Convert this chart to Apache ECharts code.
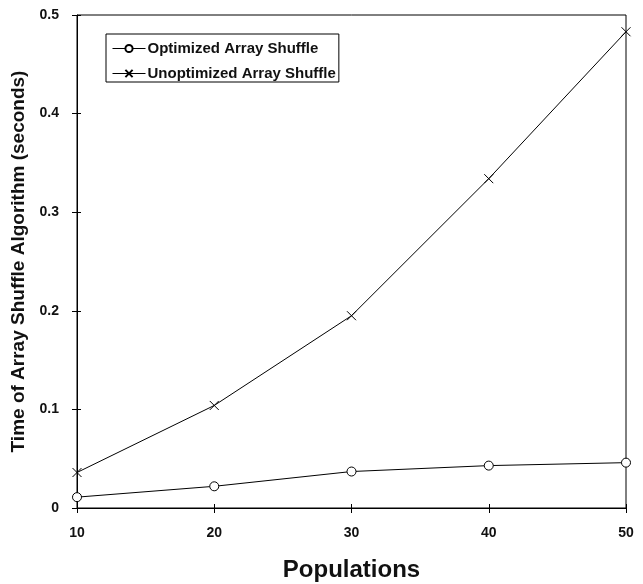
<!DOCTYPE html>
<html>
<head>
<meta charset="utf-8">
<script src="https://cdn.jsdelivr.net/npm/echarts@6/dist/echarts.min.js"></script>
<style>
html,body{margin:0;padding:0;background:#fff;}
#main{width:643px;height:584px;}
</style>
</head>
<body>
<div id="main"></div>
<script>
// populations on x axis
var populations = [10, 20, 30, 40, 50];
// timings (seconds)
var optimized = [0.011, 0.022, 0.037, 0.043, 0.046];
var unoptimized = [0.036, 0.104, 0.195, 0.334, 0.483];
var yTicks = [0, 0.1, 0.2, 0.3, 0.4, 0.5];

var font = 'Liberation Sans, Arial, sans-serif';

function pairs(xs, ys){
    var out = [];
    for(var i=0;i<xs.length;i++){
        out.push([xs[i], ys[i]]);
    }
    return out;
}

var myChart = echarts.init(document.getElementById('main'));
var crossPath = 'path://M0,0L10,10M10,0L0,10';
var labelStyle = {fontFamily: font, fontSize: 14, fontWeight: 'bold', color: '#111'};

var option = {
    animation: false,
    backgroundColor: '#fff',
    grid: {
        left: 77, right: 17, top: 15, bottom: 76,
        outerBoundsMode: 'none',
        containLabel: false,
        show: true, borderColor: '#000', borderWidth: 1
    },
    legend: {
        left: 106, top: 34,
        orient: 'vertical',
        borderColor: '#000', borderWidth: 1,
        padding: [7, 3, 1, 6],
        itemGap: 10,
        itemWidth: 33, itemHeight: 9,
        lineStyle: {width: 1},
        textStyle: {fontFamily: font, fontSize: 15, fontWeight: 'bold', color: '#111', padding: [0, 0, 0, -3]},
        data: ['Optimized Array Shuffle', 'Unoptimized Array Shuffle']
    },
    xAxis: [{
        type: 'value',
        min: 10, max: 50, interval: 10,
        name: 'Populations',
        nameLocation: 'middle',
        nameGap: 50,
        nameTextStyle: {fontFamily: font, fontSize: 24, fontWeight: 'bold', color: '#111'},
        axisLine: {lineStyle: {color: '#000', width: 1}},
        axisTick: {inside: false, length: 5, lineStyle: {color: '#000'}},
        axisLabel: Object.assign({margin: 18}, labelStyle),
        splitLine: {show: false}
    }, {
        // inside half of the crossing ticks
        type: 'value', position: 'bottom',
        min: 10, max: 50, interval: 10,
        axisLine: {show: false},
        axisTick: {inside: true, length: 4, lineStyle: {color: '#000'}},
        axisLabel: {show: false},
        splitLine: {show: false}
    }],
    yAxis: [{
        type: 'value',
        min: yTicks[0], max: yTicks[yTicks.length-1], interval: 0.1,
        name: 'Time of Array Shuffle Algorithm (seconds)',
        nameLocation: 'middle',
        nameGap: 47,
        nameTextStyle: {fontFamily: font, fontSize: 19, fontWeight: 'bold', color: '#111'},
        axisLine: {lineStyle: {color: '#000', width: 1}},
        axisTick: {length: 5, lineStyle: {color: '#000'}},
        axisLabel: Object.assign({margin: 18}, labelStyle),
        splitLine: {show: false}
    }, {
        type: 'value', position: 'left',
        min: yTicks[0], max: yTicks[yTicks.length-1], interval: 0.1,
        axisLine: {show: false},
        axisTick: {inside: true, length: 4, lineStyle: {color: '#000'}},
        axisLabel: {show: false},
        splitLine: {show: false}
    }],
    series: [
        {
            name: 'Optimized Array Shuffle',
            type: 'line',
            data: pairs(populations, optimized),
            symbol: 'circle',
            symbolSize: 9,
            lineStyle: {color: '#000', width: 1},
            itemStyle: {color: '#fff', borderColor: '#000', borderWidth: 1}
        },
        {
            name: 'Unoptimized Array Shuffle',
            type: 'line',
            data: pairs(populations, unoptimized),
            symbol: crossPath,
            symbolSize: 9,
            lineStyle: {color: '#000', width: 1},
            itemStyle: {color: 'none', borderColor: '#000', borderWidth: 1}
        }
    ]
};
myChart.setOption(option);
</script>
</body>
</html>
